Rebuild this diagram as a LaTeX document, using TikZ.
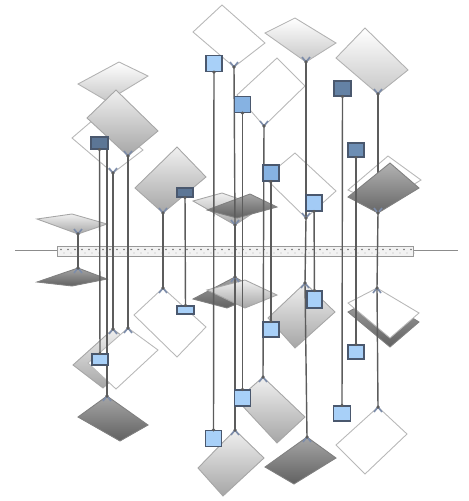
\documentclass[tikz,border=0pt]{standalone}
\definecolor{sqdark}{HTML}{5C7696}
\definecolor{sqmid}{HTML}{86B2E2}
\definecolor{sqlight}{HTML}{A8D0F8}
\definecolor{sqedge}{HTML}{4A586E}
\definecolor{wirecol}{HTML}{5C5C5C}
\definecolor{forkcol}{HTML}{7C8CAA}
\begin{document}
\begin{tikzpicture}[x=0.02cm,y=-0.02cm,
		wire/.style={draw=wirecol, line width=0.8pt},
		sq/.style={draw=sqedge, line width=0.7pt, inner sep=0pt, minimum width=0.32cm, minimum height=0.32cm},
		whitedia/.style={fill=white, draw=black!28, line width=0.5pt},
		paledia/.style={top color=white, bottom color=black!22, draw=black!30, line width=0.5pt},
		greydia/.style={top color=black!6, bottom color=black!35, draw=black!35, line width=0.5pt},
		darkdia/.style={top color=black!35, bottom color=black!62, draw=black!50, line width=0.5pt},
		fork/.style={draw=forkcol, line width=0.9pt}]
			\useasboundingbox (0,0) rectangle (469,501);
			% axis and bar
			\coordinate (axl) at (15,250);
			\coordinate (axr) at (458,250);
			\draw[black!45, line width=0.4pt] (axl) -- (axr);
			\node[draw=black!40, fill=black!5, line width=0.4pt, inner sep=0pt, minimum width=7.12cm, minimum height=0.2cm] (bar) at (235,251) {};
			\foreach \i in {0,...,50}
			{	\fill[black!55] (61+7*\i,249.5) circle (0.45pt);
				\fill[black!30] (64+7*\i,253) circle (0.35pt);
			}
			% joints
			\coordinate (ya) at (234,67);    \coordinate (yab) at (235,430);
			\coordinate (yb) at (306,62);    \coordinate (ybb) at (307,437);
			\coordinate (yc) at (378,94);    \coordinate (ycb) at (378,407);
			\coordinate (yd) at (264,126);   \coordinate (ydb) at (263,377);
			\coordinate (ye) at (128,156);   \coordinate (yeb) at (128,328);
			\coordinate (yf) at (107,101);   \coordinate (yfb) at (107,396);
			\coordinate (yw1) at (113,173);  \coordinate (yw1b) at (113,329);
			\coordinate (yg) at (163,213);   \coordinate (ygb) at (163,288);
			\coordinate (yw2) at (306,218);  \coordinate (yw2b) at (305,283);
			\coordinate (yh) at (378,213);   \coordinate (yhb) at (377,288);
			\coordinate (yk) at (235,225);   \coordinate (ykb) at (235,277);
			\coordinate (ycone) at (78,234); \coordinate (yconeb) at (78,268);
			% back plates
			\path[paledia] (78,84) -- (119,62) -- (148,76) -- (yf) -- cycle;
			\path[whitedia] (72,138) -- (100,114) -- (143,150) -- (yw1) -- cycle;
			\path[whitedia] (348,190) -- (388,156) -- (421,180) -- (380,205) -- cycle;
			\path[greydia] (yw1b) -- (143,352) -- (103,388) -- (73,365) -- cycle;
			\path[darkdia] (377,296) -- (419,322) -- (390,347) -- (348,312) -- cycle;
			% upper plates
			\path[whitedia] (193,32) -- (222,5) -- (265,43) -- (ya) -- cycle;
			\path[paledia] (265,33) -- (295,18) -- (336,43) -- (yb) -- cycle;
			\path[paledia] (336,58) -- (365,28) -- (408,70) -- (yc) -- cycle;
			\path[whitedia] (237,95) -- (277,58) -- (305,86) -- (yd) -- cycle;
			\path[greydia] (135,188) -- (177,147) -- (206,177) -- (yg) -- cycle;
			\path[whitedia] (265,178) -- (295,153) -- (336,191) -- (yw2) -- cycle;
			\path[greydia] (37,219) -- (72,214) -- (107,224) -- (ycone) -- cycle;
			\path[greydia] (193,201) -- (222,193) -- (262,207) -- (yk) -- cycle;
			\path[darkdia] (207,210) -- (250,194) -- (277,207) -- (237,218) -- cycle;
			% lower plates
			\path[darkdia] (yconeb) -- (107,279) -- (72,286) -- (37,282) -- cycle;
			\path[darkdia] (ykb) -- (262,293) -- (227,308) -- (193,299) -- cycle;
			\path[greydia] (207,290) -- (245,280) -- (277,295) -- (245,308) -- cycle;
			\path[whitedia] (ygb) -- (206,327) -- (177,357) -- (134,315) -- cycle;
			\path[whitedia] (yeb) -- (158,350) -- (116,389) -- (88,363) -- cycle;
			\path[darkdia] (yfb) -- (148,425) -- (120,441) -- (78,417) -- cycle;
			\path[greydia] (yw2b) -- (335,312) -- (295,348) -- (268,318) -- cycle;
			\path[whitedia] (yhb) -- (419,313) -- (390,338) -- (348,303) -- cycle;
			\path[greydia] (ydb) -- (305,417) -- (277,443) -- (237,400) -- cycle;
			\path[greydia] (yab) -- (264,458) -- (223,496) -- (198,468) -- cycle;
			\path[darkdia] (ybb) -- (336,458) -- (294,484) -- (265,467) -- cycle;
			\path[whitedia] (ycb) -- (407,434) -- (365,474) -- (336,445) -- cycle;
			%
			\def\links {ya/yk, yk/ykb, ykb/yab, yb/yw2, yw2/yw2b, yw2b/ybb, yc/yh, yh/yhb, yhb/ycb, yd/ydb, ye/yeb, yf/yfb, yw1/yw1b, yg/ygb, ycone/yconeb}
			\foreach \u/\v in \links
			{	\draw[wire] (\u) -- (\v);
			}
			\path[greydia] (87,118) -- (116,90) -- (158,131) -- (ye) -- cycle;
			\path[top color=black!30, bottom color=black!60, draw=black!50, line width=0.5pt] (348,197) -- (390,163) -- (419,188) -- (yh) -- cycle;
			% boxes
			\node[sq, fill=sqdark, minimum width=0.34cm, minimum height=0.24cm] (s1) at (99.5,143) {};
			\node[sq, fill=sqlight, minimum height=0.22cm] (s1b) at (100,359.5) {};
			\node[sq, fill=sqdark, minimum height=0.18cm] (s2) at (185,192.5) {};
			\node[sq, fill=sqlight, minimum width=0.34cm, minimum height=0.16cm] (s2b) at (185.5,310) {};
			\node[sq, fill=sqlight] (s3) at (214,63.5) {};
			\node[sq, fill=sqlight] (s3b) at (213.5,438.5) {};
			\node[sq, fill=sqmid] (s4) at (242.5,104.5) {};
			\node[sq, fill=sqlight] (s4b) at (242.5,398) {};
			\node[sq, fill=sqdark!80!sqmid, minimum width=0.34cm, minimum height=0.3cm] (s5) at (342.5,88.5) {};
			\node[sq, fill=sqlight, minimum width=0.34cm, minimum height=0.3cm] (s5b) at (342,413.5) {};
			\node[sq, fill=sqdark!60!sqmid, minimum height=0.28cm] (s6) at (356,150) {};
			\node[sq, fill=sqlight, minimum height=0.28cm] (s6b) at (356,352) {};
			\node[sq, fill=sqmid] (s7) at (271,173) {};
			\node[sq, fill=sqlight, minimum height=0.3cm] (s7b) at (271,329.5) {};
			\node[sq, fill=sqlight!85!sqmid] (s8) at (314,203) {};
			\node[sq, fill=sqlight, minimum width=0.3cm, minimum height=0.34cm] (s8b) at (314.5,299.5) {};
			%
			\def\sqlinks {s1/s1b, s2/s2b, s3/s3b, s4/s4b, s5/s5b, s6/s6b, s7/s7b, s8/s8b}
			\foreach \u/\v in \sqlinks
			{	\draw[wire] (\u) -- (\v);
				\fill[wirecol] (\u.south) circle (1pt);
				\fill[wirecol] (\v.north) circle (1pt);
			}
			% forks
			\foreach \p in {ya, yb, yc, yd, ye, yw1, yg, yw2, yh, yk, ycone}
			{	\draw[fork] (\p) ++(-4,-5) -- (\p) -- ++(4,-5);
				\fill[wirecol] (\p) circle (1pt);
			}
			\foreach \p in {yab, ybb, ycb, ydb, yeb, yfb, yw1b, ygb, yw2b, yhb, ykb, yconeb}
			{	\draw[fork] (\p) ++(-4,5) -- (\p) -- ++(4,5);
				\fill[wirecol] (\p) circle (1pt);
			}
		\end{tikzpicture}
\end{document}
